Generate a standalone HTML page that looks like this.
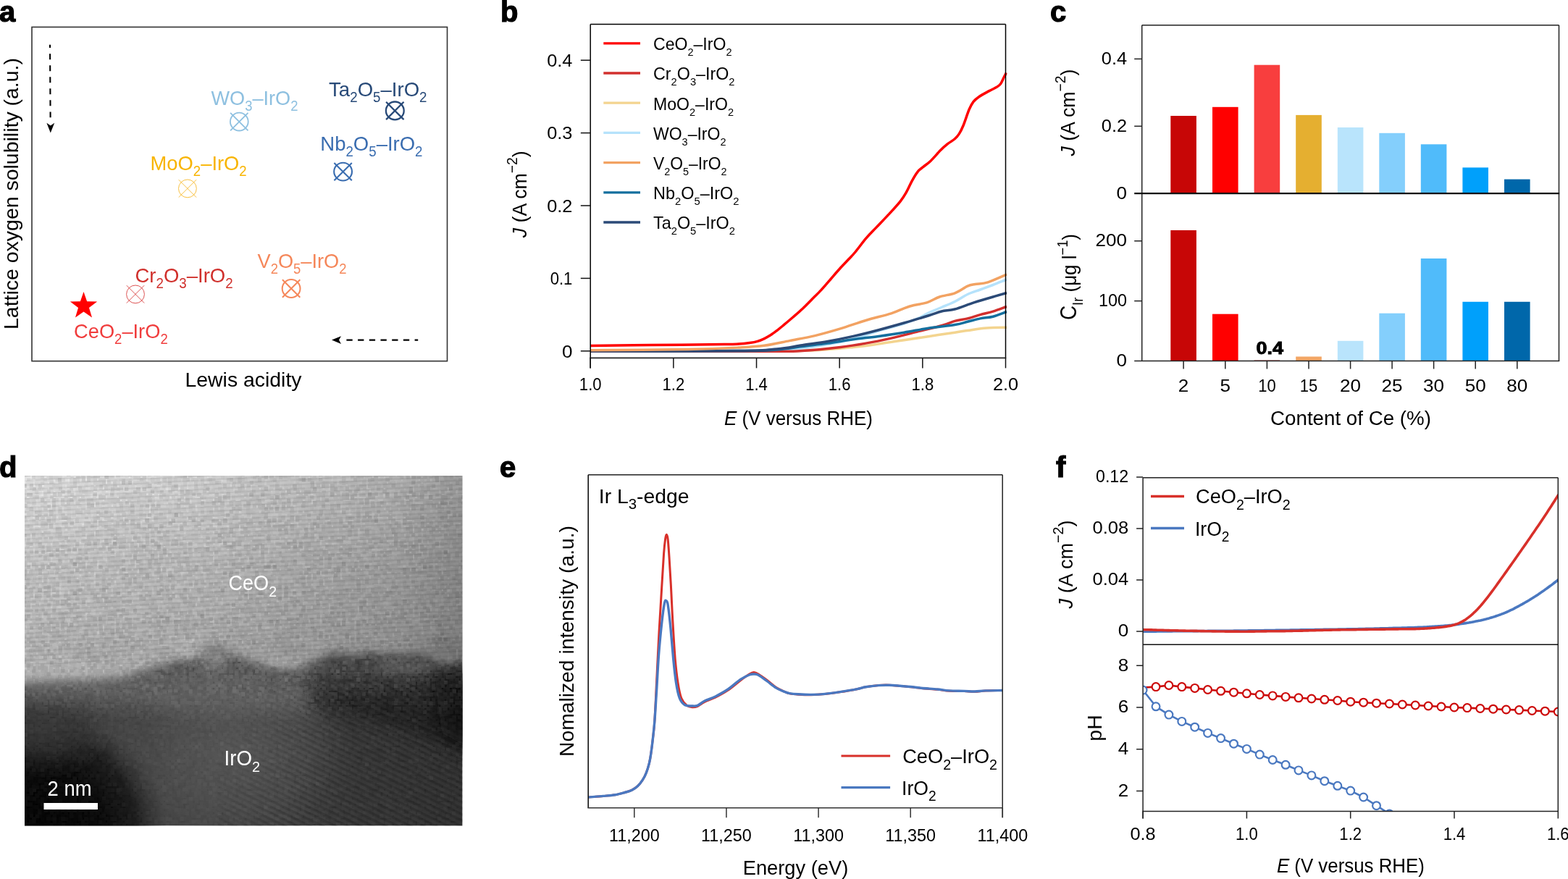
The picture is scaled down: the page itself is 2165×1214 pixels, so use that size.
<!DOCTYPE html>
<html><head><meta charset="utf-8"><title>Figure</title>
<style>html,body{margin:0;padding:0;background:#fff;overflow:hidden}svg{display:block}</style>
</head><body>
<svg width="2165" height="1214" viewBox="0 0 2165 1214" font-family='&quot;Liberation Sans&quot;, sans-serif'>
<rect width="2165" height="1214" fill="#fff"/>
<text x="-1.00" y="29.50" font-size="40.00" font-weight="bold" stroke="#000" stroke-width="1.2">a</text>
<rect x="44.00" y="37.40" width="573.50" height="461.30" fill="none" stroke="#333" stroke-width="1.6"/>
<text x="24.50" y="267.50" font-size="28.50" text-anchor="middle" textLength="375.00" lengthAdjust="spacingAndGlyphs" transform="rotate(-90 24.50 267.50)">Lattice oxygen solubility (a.u.)</text>
<text x="336.00" y="533.80" font-size="28.50" text-anchor="middle" textLength="161.00" lengthAdjust="spacingAndGlyphs">Lewis acidity</text>
<text x="291.50" y="144.70" font-size="28.50" fill="#8ec0e0" textLength="120.00" lengthAdjust="spacingAndGlyphs">WO<tspan font-size="19.38" dy="8.26">3</tspan><tspan dy="-8.26">–IrO</tspan><tspan font-size="19.38" dy="8.26">2</tspan></text>
<text x="454.10" y="132.90" font-size="28.50" fill="#284a78" textLength="135.40" lengthAdjust="spacingAndGlyphs">Ta<tspan font-size="19.38" dy="8.26">2</tspan><tspan dy="-8.26">O</tspan><tspan font-size="19.38" dy="8.26">5</tspan><tspan dy="-8.26">–IrO</tspan><tspan font-size="19.38" dy="8.26">2</tspan></text>
<text x="442.30" y="207.50" font-size="28.50" fill="#3a6db0" textLength="141.20" lengthAdjust="spacingAndGlyphs">Nb<tspan font-size="19.38" dy="8.26">2</tspan><tspan dy="-8.26">O</tspan><tspan font-size="19.38" dy="8.26">5</tspan><tspan dy="-8.26">–IrO</tspan><tspan font-size="19.38" dy="8.26">2</tspan></text>
<text x="207.60" y="234.80" font-size="28.50" fill="#f8b400" textLength="133.10" lengthAdjust="spacingAndGlyphs">MoO<tspan font-size="19.38" dy="8.26">2</tspan><tspan dy="-8.26">–IrO</tspan><tspan font-size="19.38" dy="8.26">2</tspan></text>
<text x="355.50" y="369.50" font-size="28.50" fill="#f5875a" textLength="123.00" lengthAdjust="spacingAndGlyphs">V<tspan font-size="19.38" dy="8.26">2</tspan><tspan dy="-8.26">O</tspan><tspan font-size="19.38" dy="8.26">5</tspan><tspan dy="-8.26">–IrO</tspan><tspan font-size="19.38" dy="8.26">2</tspan></text>
<text x="186.40" y="389.60" font-size="28.50" fill="#d0302c" textLength="135.30" lengthAdjust="spacingAndGlyphs">Cr<tspan font-size="19.38" dy="8.26">2</tspan><tspan dy="-8.26">O</tspan><tspan font-size="19.38" dy="8.26">3</tspan><tspan dy="-8.26">–IrO</tspan><tspan font-size="19.38" dy="8.26">2</tspan></text>
<text x="102.10" y="466.80" font-size="28.50" fill="#f03c3c" textLength="129.60" lengthAdjust="spacingAndGlyphs">CeO<tspan font-size="19.38" dy="8.26">2</tspan><tspan dy="-8.26">–IrO</tspan><tspan font-size="19.38" dy="8.26">2</tspan></text>
<g stroke="#8ec0e0" stroke-width="1.8" fill="none"><circle cx="330.3" cy="168.1" r="12.4"/><path d="M318.1 155.9L342.5 180.3M318.1 180.3L342.5 155.9"/></g>
<g stroke="#284a78" stroke-width="2.3" fill="none"><circle cx="545.3" cy="152.9" r="12.4"/><path d="M533.1 140.7L557.5 165.1M533.1 165.1L557.5 140.7"/></g>
<g stroke="#3a6db0" stroke-width="2.1" fill="none"><circle cx="473.6" cy="237.1" r="12.4"/><path d="M461.4 224.9L485.8 249.3M461.4 249.3L485.8 224.9"/></g>
<g stroke="#f8c040" stroke-width="1" fill="none"><circle cx="258.9" cy="260.4" r="12.4"/><path d="M246.7 248.2L271.1 272.6M246.7 272.6L271.1 248.2"/></g>
<g stroke="#f5875a" stroke-width="2" fill="none"><circle cx="402.1" cy="398.5" r="12.4"/><path d="M389.9 386.3L414.3 410.7M389.9 410.7L414.3 386.3"/></g>
<g stroke="#d84040" stroke-width="0.9" fill="none"><circle cx="187.0" cy="406.4" r="12.4"/><path d="M174.8 394.2L199.2 418.6M174.8 418.6L199.2 394.2"/></g>
<polygon points="115.50,403.00 120.11,416.26 134.14,416.54 122.96,425.02 127.02,438.46 115.50,430.44 103.98,438.46 108.04,425.02 96.86,416.54 110.89,416.26" fill="#ff0000"/>
<line x1="69.0" y1="61.7" x2="69.6" y2="162.3" stroke="#000" stroke-width="2.1" stroke-dasharray="8 8.05" stroke-dashoffset="3.6"/>
<path d="M69.8 183.6 L64.4 169.8 L69.8 173.6 L75.2 169.8 Z" fill="#000"/>
<line x1="577.2" y1="469.6" x2="471" y2="469.6" stroke="#000" stroke-width="2.1" stroke-dasharray="8.3 7.4" stroke-dashoffset="3.7"/>
<path d="M458 469.6 L471 464.2 L468 469.6 L471 475 Z" fill="#000"/>
<text x="691.00" y="29.50" font-size="40.00" font-weight="bold" stroke="#000" stroke-width="1.2">b</text>
<clipPath id="cb"><rect x="815.2" y="33.5" width="575.3" height="460.9"/></clipPath>
<g clip-path="url(#cb)">
<path d="M815.0 485.0 C845.8 485.0 959.2 485.0 1000.0 485.0 C1040.8 485.0 1039.1 485.2 1060.0 485.0 C1080.9 484.8 1105.6 484.7 1125.3 483.8 C1145.0 482.9 1163.4 480.9 1178.0 479.4 C1192.6 477.9 1201.4 476.6 1213.1 475.0 C1224.8 473.4 1236.5 471.5 1248.2 469.7 C1259.9 467.9 1271.6 466.1 1283.3 464.4 C1295.0 462.6 1309.6 460.5 1318.4 459.2 C1327.2 457.9 1328.7 457.5 1336.0 456.5 C1343.3 455.5 1353.3 453.7 1362.3 453.0 C1371.3 452.3 1385.4 452.3 1390.0 452.2" fill="none" stroke="#f3d48f" stroke-width="3.5" stroke-linejoin="round" stroke-linecap="butt"/>
<path d="M815.0 485.0 C854.2 485.0 1005.8 485.2 1050.0 485.0 C1094.2 484.8 1070.4 484.7 1080.0 484.0 C1089.6 483.3 1097.3 482.4 1107.8 481.0 C1118.3 479.6 1131.2 477.7 1142.9 475.5 C1154.6 473.3 1166.3 471.1 1178.0 468.0 C1189.7 464.9 1201.4 460.5 1213.1 457.0 C1224.8 453.5 1238.5 450.1 1248.0 447.0 C1257.5 443.9 1264.1 441.1 1270.0 438.5 C1275.9 435.9 1278.3 433.8 1283.3 431.5 C1288.3 429.2 1294.2 427.0 1300.0 424.5 C1305.8 422.0 1312.4 419.5 1318.4 416.5 C1324.4 413.5 1330.2 409.2 1336.0 406.5 C1341.8 403.8 1347.7 402.2 1353.5 400.0 C1359.3 397.8 1365.0 395.8 1371.1 393.5 C1377.2 391.2 1386.8 387.2 1390.0 386.0" fill="none" stroke="#b5e2fb" stroke-width="3.5" stroke-linejoin="round" stroke-linecap="butt"/>
<path d="M815.0 485.2 C855.8 485.2 1011.2 485.3 1060.0 485.2 C1108.8 485.1 1091.1 485.4 1107.8 484.4 C1124.5 483.4 1145.8 481.1 1160.4 479.4 C1175.0 477.7 1183.8 476.2 1195.5 474.1 C1207.2 472.1 1218.9 469.7 1230.6 467.1 C1242.3 464.5 1254.0 461.2 1265.7 458.3 C1277.4 455.4 1292.1 452.0 1300.9 449.5 C1309.7 447.0 1312.6 445.0 1318.4 443.4 C1324.2 441.8 1330.2 441.4 1336.0 439.9 C1341.8 438.4 1347.7 436.2 1353.5 434.6 C1359.3 433.0 1365.0 432.1 1371.1 430.2 C1377.2 428.3 1386.8 424.6 1390.0 423.5" fill="none" stroke="#d2302e" stroke-width="3.5" stroke-linejoin="round" stroke-linecap="butt"/>
<path d="M815.0 484.8 C849.2 484.8 977.0 484.9 1020.0 484.6 C1063.0 484.3 1058.1 483.9 1072.7 482.9 C1087.3 481.9 1096.1 480.0 1107.8 478.5 C1119.5 477.0 1131.2 475.7 1142.9 474.1 C1154.6 472.5 1166.3 470.4 1178.0 468.8 C1189.7 467.2 1201.4 466.0 1213.1 464.4 C1224.8 462.8 1236.5 461.1 1248.2 459.2 C1259.9 457.3 1271.6 454.8 1283.3 453.0 C1295.0 451.2 1309.6 450.1 1318.4 448.6 C1327.2 447.2 1330.2 445.8 1336.0 444.3 C1341.8 442.9 1347.7 441.1 1353.5 439.9 C1359.3 438.7 1365.0 438.8 1371.1 437.2 C1377.2 435.6 1386.8 431.6 1390.0 430.5" fill="none" stroke="#146f9e" stroke-width="3.5" stroke-linejoin="round" stroke-linecap="butt"/>
<path d="M815.0 484.8 C849.2 484.8 977.0 485.1 1020.0 484.6 C1063.0 484.1 1058.1 483.3 1072.7 482.0 C1087.3 480.7 1096.1 478.4 1107.8 476.7 C1119.5 474.9 1131.2 473.6 1142.9 471.5 C1154.6 469.4 1166.3 467.0 1178.0 464.4 C1189.7 461.8 1201.4 458.8 1213.1 455.7 C1224.8 452.6 1236.5 449.4 1248.2 446.0 C1259.9 442.6 1274.7 438.2 1283.3 435.5 C1291.9 432.8 1294.2 431.4 1300.0 430.0 C1305.8 428.6 1311.0 429.0 1318.4 427.0 C1325.9 425.0 1335.9 420.7 1344.7 417.9 C1353.5 415.1 1363.5 412.2 1371.1 410.0 C1378.6 407.8 1386.8 405.4 1390.0 404.5" fill="none" stroke="#2b4a77" stroke-width="3.5" stroke-linejoin="round" stroke-linecap="butt"/>
<path d="M815.0 483.8 C837.5 483.6 915.8 483.1 950.0 482.5 C984.2 481.9 1002.5 480.9 1020.0 480.0 C1037.5 479.1 1043.4 478.9 1055.1 477.3 C1066.8 475.7 1078.5 472.9 1090.2 470.6 C1101.9 468.3 1113.6 466.4 1125.3 463.6 C1137.0 460.8 1148.7 457.4 1160.4 453.9 C1172.1 450.4 1183.8 446.0 1195.5 442.5 C1207.2 439.0 1221.8 435.6 1230.6 432.8 C1239.4 430.0 1243.0 427.7 1248.2 425.8 C1253.4 423.9 1256.7 422.8 1262.0 421.5 C1267.3 420.2 1273.9 419.8 1279.8 417.9 C1285.7 416.0 1290.9 412.2 1297.3 410.0 C1303.7 407.8 1312.0 407.3 1318.4 404.8 C1324.9 402.3 1331.3 397.2 1336.0 395.1 C1340.7 393.1 1341.8 393.4 1346.5 392.5 C1351.2 391.6 1356.8 392.1 1364.0 389.8 C1371.2 387.6 1385.7 380.8 1390.0 379.0" fill="none" stroke="#f2a262" stroke-width="3.5" stroke-linejoin="round" stroke-linecap="butt"/>
<path d="M815.0 477.6 C829.2 477.4 869.2 476.9 900.0 476.6 C930.8 476.3 980.0 475.9 1000.0 475.6 C1020.0 475.4 1014.2 475.4 1020.0 475.1 C1025.8 474.8 1030.7 474.2 1035.0 473.6 C1039.3 473.0 1042.7 472.4 1046.0 471.4 C1049.3 470.4 1052.0 469.2 1055.0 467.8 C1058.0 466.4 1061.0 464.7 1064.0 462.8 C1067.0 460.9 1070.1 458.5 1073.0 456.3 C1075.9 454.1 1077.7 452.6 1081.4 449.5 C1085.1 446.4 1090.6 441.8 1095.0 438.0 C1099.4 434.2 1103.7 430.6 1108.0 426.5 C1112.3 422.4 1116.7 417.9 1121.0 413.5 C1125.3 409.1 1129.7 405.1 1134.0 400.4 C1138.3 395.7 1142.7 390.5 1147.0 385.5 C1151.3 380.5 1155.8 375.1 1160.0 370.5 C1164.2 365.9 1168.5 361.6 1172.0 357.8 C1175.5 354.1 1177.0 352.8 1181.0 348.0 C1185.0 343.2 1191.0 334.8 1195.8 329.2 C1200.6 323.6 1204.1 320.3 1209.7 314.4 C1215.3 308.5 1223.8 299.7 1229.4 293.6 C1235.0 287.5 1239.7 282.4 1243.3 277.8 C1246.9 273.2 1248.6 270.5 1251.2 265.9 C1253.8 261.3 1256.5 254.9 1259.1 250.1 C1261.7 245.3 1264.4 240.6 1267.0 237.3 C1269.6 234.0 1271.9 232.8 1274.9 230.3 C1277.9 227.8 1280.8 226.2 1284.8 222.4 C1288.8 218.6 1294.6 211.6 1298.6 207.6 C1302.5 203.6 1305.2 201.3 1308.5 198.7 C1311.8 196.1 1315.8 194.1 1318.4 191.8 C1321.0 189.5 1322.3 188.0 1324.3 184.9 C1326.3 181.8 1327.9 178.6 1330.2 173.0 C1332.5 167.4 1335.8 156.7 1338.1 151.3 C1340.4 145.9 1341.8 143.4 1344.1 140.4 C1346.4 137.4 1348.4 136.0 1352.0 133.5 C1355.6 131.0 1361.8 127.8 1365.8 125.6 C1369.8 123.4 1373.1 122.2 1375.7 120.6 C1378.3 118.9 1379.9 118.0 1381.6 115.7 C1383.3 113.4 1384.7 109.5 1386.0 107.0 C1387.3 104.5 1388.9 101.6 1389.5 100.5" fill="none" stroke="#ff0000" stroke-width="3.5" stroke-linejoin="round" stroke-linecap="butt"/>
</g>
<line x1="815.20" y1="33.50" x2="1388.50" y2="33.50" stroke="#000" stroke-width="1.5"/>
<line x1="1388.50" y1="33.50" x2="1388.50" y2="494.40" stroke="#000" stroke-width="1.5"/>
<line x1="815.20" y1="33.50" x2="815.20" y2="508.40" stroke="#000" stroke-width="1.5"/>
<line x1="814.20" y1="494.40" x2="1389.25" y2="494.40" stroke="#222" stroke-width="1.8"/>
<line x1="801.80" y1="484.80" x2="815.20" y2="484.80" stroke="#111" stroke-width="1.5"/>
<text x="790.40" y="493.60" font-size="24.20" text-anchor="end" textLength="14.50" lengthAdjust="spacingAndGlyphs">0</text>
<line x1="801.80" y1="384.40" x2="815.20" y2="384.40" stroke="#111" stroke-width="1.5"/>
<text x="790.40" y="393.20" font-size="24.20" text-anchor="end" textLength="30.70" lengthAdjust="spacingAndGlyphs">0.1</text>
<line x1="801.80" y1="284.00" x2="815.20" y2="284.00" stroke="#111" stroke-width="1.5"/>
<text x="790.40" y="292.80" font-size="24.20" text-anchor="end" textLength="35.20" lengthAdjust="spacingAndGlyphs">0.2</text>
<line x1="801.80" y1="183.60" x2="815.20" y2="183.60" stroke="#111" stroke-width="1.5"/>
<text x="790.40" y="192.40" font-size="24.20" text-anchor="end" textLength="35.20" lengthAdjust="spacingAndGlyphs">0.3</text>
<line x1="801.80" y1="83.20" x2="815.20" y2="83.20" stroke="#111" stroke-width="1.5"/>
<text x="790.40" y="92.00" font-size="24.20" text-anchor="end" textLength="35.20" lengthAdjust="spacingAndGlyphs">0.4</text>
<line x1="815.20" y1="494.40" x2="815.20" y2="508.40" stroke="#111" stroke-width="1.5"/>
<text x="815.20" y="538.80" font-size="24.20" text-anchor="middle" textLength="30.70" lengthAdjust="spacingAndGlyphs">1.0</text>
<line x1="929.86" y1="494.40" x2="929.86" y2="508.40" stroke="#111" stroke-width="1.5"/>
<text x="929.86" y="538.80" font-size="24.20" text-anchor="middle" textLength="30.70" lengthAdjust="spacingAndGlyphs">1.2</text>
<line x1="1044.52" y1="494.40" x2="1044.52" y2="508.40" stroke="#111" stroke-width="1.5"/>
<text x="1044.52" y="538.80" font-size="24.20" text-anchor="middle" textLength="30.70" lengthAdjust="spacingAndGlyphs">1.4</text>
<line x1="1159.18" y1="494.40" x2="1159.18" y2="508.40" stroke="#111" stroke-width="1.5"/>
<text x="1159.18" y="538.80" font-size="24.20" text-anchor="middle" textLength="30.70" lengthAdjust="spacingAndGlyphs">1.6</text>
<line x1="1273.84" y1="494.40" x2="1273.84" y2="508.40" stroke="#111" stroke-width="1.5"/>
<text x="1273.84" y="538.80" font-size="24.20" text-anchor="middle" textLength="30.70" lengthAdjust="spacingAndGlyphs">1.8</text>
<line x1="1388.50" y1="494.40" x2="1388.50" y2="508.40" stroke="#111" stroke-width="1.5"/>
<text x="1388.50" y="538.80" font-size="24.20" text-anchor="middle" textLength="35.20" lengthAdjust="spacingAndGlyphs">2.0</text>
<text x="1102.40" y="586.80" font-size="28.40" text-anchor="middle" textLength="205.00" lengthAdjust="spacingAndGlyphs"><tspan font-style="italic">E</tspan> (V versus RHE)</text>
<text x="726.80" y="268.30" font-size="28.40" text-anchor="middle" textLength="120.00" lengthAdjust="spacingAndGlyphs" transform="rotate(-90 726.80 268.30)"><tspan font-style="italic">J</tspan> (A cm<tspan font-size="20.45" dy="-13.06">−2</tspan><tspan dy="13.06">)</tspan></text>
<line x1="833.30" y1="59.80" x2="884.00" y2="59.80" stroke="#ff0000" stroke-width="3.3"/>
<text x="902.00" y="69.20" font-size="23.80" textLength="108.50" lengthAdjust="spacingAndGlyphs">CeO<tspan font-size="14.99" dy="8.09">2</tspan><tspan dy="-8.09">–IrO</tspan><tspan font-size="14.99" dy="8.09">2</tspan></text>
<line x1="833.30" y1="101.00" x2="884.00" y2="101.00" stroke="#d2302e" stroke-width="3.3"/>
<text x="902.00" y="110.40" font-size="23.80" textLength="112.50" lengthAdjust="spacingAndGlyphs">Cr<tspan font-size="14.99" dy="8.09">2</tspan><tspan dy="-8.09">O</tspan><tspan font-size="14.99" dy="8.09">3</tspan><tspan dy="-8.09">–IrO</tspan><tspan font-size="14.99" dy="8.09">2</tspan></text>
<line x1="833.30" y1="142.20" x2="884.00" y2="142.20" stroke="#f3d48f" stroke-width="3.3"/>
<text x="902.00" y="151.60" font-size="23.80" textLength="111.00" lengthAdjust="spacingAndGlyphs">MoO<tspan font-size="14.99" dy="8.09">2</tspan><tspan dy="-8.09">–IrO</tspan><tspan font-size="14.99" dy="8.09">2</tspan></text>
<line x1="833.30" y1="183.40" x2="884.00" y2="183.40" stroke="#b5e2fb" stroke-width="3.3"/>
<text x="902.00" y="192.80" font-size="23.80" textLength="100.50" lengthAdjust="spacingAndGlyphs">WO<tspan font-size="14.99" dy="8.09">3</tspan><tspan dy="-8.09">–IrO</tspan><tspan font-size="14.99" dy="8.09">2</tspan></text>
<line x1="833.30" y1="224.60" x2="884.00" y2="224.60" stroke="#f2a262" stroke-width="3.3"/>
<text x="902.00" y="234.00" font-size="23.80" textLength="101.50" lengthAdjust="spacingAndGlyphs">V<tspan font-size="14.99" dy="8.09">2</tspan><tspan dy="-8.09">O</tspan><tspan font-size="14.99" dy="8.09">5</tspan><tspan dy="-8.09">–IrO</tspan><tspan font-size="14.99" dy="8.09">2</tspan></text>
<line x1="833.30" y1="265.80" x2="884.00" y2="265.80" stroke="#146f9e" stroke-width="3.3"/>
<text x="902.00" y="275.20" font-size="23.80" textLength="118.50" lengthAdjust="spacingAndGlyphs">Nb<tspan font-size="14.99" dy="8.09">2</tspan><tspan dy="-8.09">O</tspan><tspan font-size="14.99" dy="8.09">5</tspan><tspan dy="-8.09">–IrO</tspan><tspan font-size="14.99" dy="8.09">2</tspan></text>
<line x1="833.30" y1="307.00" x2="884.00" y2="307.00" stroke="#2b4a77" stroke-width="3.3"/>
<text x="902.00" y="316.40" font-size="23.80" textLength="113.00" lengthAdjust="spacingAndGlyphs">Ta<tspan font-size="14.99" dy="8.09">2</tspan><tspan dy="-8.09">O</tspan><tspan font-size="14.99" dy="8.09">5</tspan><tspan dy="-8.09">–IrO</tspan><tspan font-size="14.99" dy="8.09">2</tspan></text>
<text x="1450.00" y="29.50" font-size="40.00" font-weight="bold" stroke="#000" stroke-width="1.2">c</text>
<rect x="1616.30" y="160.00" width="35.60" height="107.20" fill="#c70606"/>
<rect x="1674.00" y="147.80" width="35.60" height="119.40" fill="#ff0000"/>
<rect x="1731.60" y="89.70" width="35.60" height="177.50" fill="#f83e3e"/>
<rect x="1789.20" y="158.90" width="35.60" height="108.30" fill="#e5af30"/>
<rect x="1846.80" y="176.00" width="35.60" height="91.20" fill="#b9e4fc"/>
<rect x="1904.30" y="183.80" width="35.60" height="83.40" fill="#84cffc"/>
<rect x="1961.80" y="199.30" width="35.60" height="67.90" fill="#50bbfa"/>
<rect x="2019.40" y="231.40" width="35.60" height="35.80" fill="#00a0fb"/>
<rect x="2077.00" y="247.60" width="35.60" height="19.60" fill="#0067aa"/>
<rect x="1616.30" y="318.00" width="35.60" height="180.50" fill="#c70606"/>
<rect x="1674.00" y="433.70" width="35.60" height="64.80" fill="#ff0000"/>
<rect x="1731.60" y="497.60" width="35.60" height="0.90" fill="#a01010"/>
<rect x="1789.20" y="492.50" width="35.60" height="6.00" fill="#f3a665"/>
<rect x="1846.80" y="470.80" width="35.60" height="27.70" fill="#b9e4fc"/>
<rect x="1904.30" y="432.70" width="35.60" height="65.80" fill="#84cffc"/>
<rect x="1961.80" y="357.00" width="35.60" height="141.50" fill="#50bbfa"/>
<rect x="2019.40" y="416.80" width="35.60" height="81.70" fill="#00a0fb"/>
<rect x="2077.00" y="416.80" width="35.60" height="81.70" fill="#0067aa"/>
<line x1="1576.70" y1="34.80" x2="2152.50" y2="34.80" stroke="#222" stroke-width="1.5"/>
<line x1="2152.50" y1="34.80" x2="2152.50" y2="498.50" stroke="#222" stroke-width="1.5"/>
<line x1="1576.70" y1="34.80" x2="1576.70" y2="498.50" stroke="#222" stroke-width="1.5"/>
<line x1="1566.20" y1="267.20" x2="2153.25" y2="267.20" stroke="#111" stroke-width="2.2"/>
<line x1="1566.20" y1="498.50" x2="2153.25" y2="498.50" stroke="#222" stroke-width="1.6"/>
<line x1="1566.20" y1="174.30" x2="1576.70" y2="174.30" stroke="#222" stroke-width="1.5"/>
<text x="1556.00" y="181.60" font-size="24.20" text-anchor="end" textLength="35.20" lengthAdjust="spacingAndGlyphs">0.2</text>
<line x1="1566.20" y1="81.40" x2="1576.70" y2="81.40" stroke="#222" stroke-width="1.5"/>
<text x="1556.00" y="88.70" font-size="24.20" text-anchor="end" textLength="35.20" lengthAdjust="spacingAndGlyphs">0.4</text>
<text x="1556.00" y="274.50" font-size="24.20" text-anchor="end" textLength="14.50" lengthAdjust="spacingAndGlyphs">0</text>
<line x1="1566.20" y1="415.65" x2="1576.70" y2="415.65" stroke="#222" stroke-width="1.5"/>
<text x="1556.00" y="422.95" font-size="24.20" text-anchor="end" textLength="39.00" lengthAdjust="spacingAndGlyphs">100</text>
<line x1="1566.20" y1="332.80" x2="1576.70" y2="332.80" stroke="#222" stroke-width="1.5"/>
<text x="1556.00" y="340.10" font-size="24.20" text-anchor="end" textLength="43.50" lengthAdjust="spacingAndGlyphs">200</text>
<text x="1556.00" y="505.80" font-size="24.20" text-anchor="end" textLength="14.50" lengthAdjust="spacingAndGlyphs">0</text>
<line x1="1634.10" y1="498.50" x2="1634.10" y2="509.50" stroke="#222" stroke-width="1.5"/>
<text x="1634.10" y="541.00" font-size="24.20" text-anchor="middle" textLength="14.50" lengthAdjust="spacingAndGlyphs">2</text>
<line x1="1691.80" y1="498.50" x2="1691.80" y2="509.50" stroke="#222" stroke-width="1.5"/>
<text x="1691.80" y="541.00" font-size="24.20" text-anchor="middle" textLength="14.50" lengthAdjust="spacingAndGlyphs">5</text>
<line x1="1749.40" y1="498.50" x2="1749.40" y2="509.50" stroke="#222" stroke-width="1.5"/>
<text x="1749.40" y="541.00" font-size="24.20" text-anchor="middle" textLength="24.50" lengthAdjust="spacingAndGlyphs">10</text>
<line x1="1807.00" y1="498.50" x2="1807.00" y2="509.50" stroke="#222" stroke-width="1.5"/>
<text x="1807.00" y="541.00" font-size="24.20" text-anchor="middle" textLength="24.50" lengthAdjust="spacingAndGlyphs">15</text>
<line x1="1864.60" y1="498.50" x2="1864.60" y2="509.50" stroke="#222" stroke-width="1.5"/>
<text x="1864.60" y="541.00" font-size="24.20" text-anchor="middle" textLength="29.00" lengthAdjust="spacingAndGlyphs">20</text>
<line x1="1922.10" y1="498.50" x2="1922.10" y2="509.50" stroke="#222" stroke-width="1.5"/>
<text x="1922.10" y="541.00" font-size="24.20" text-anchor="middle" textLength="29.00" lengthAdjust="spacingAndGlyphs">25</text>
<line x1="1979.60" y1="498.50" x2="1979.60" y2="509.50" stroke="#222" stroke-width="1.5"/>
<text x="1979.60" y="541.00" font-size="24.20" text-anchor="middle" textLength="29.00" lengthAdjust="spacingAndGlyphs">30</text>
<line x1="2037.20" y1="498.50" x2="2037.20" y2="509.50" stroke="#222" stroke-width="1.5"/>
<text x="2037.20" y="541.00" font-size="24.20" text-anchor="middle" textLength="29.00" lengthAdjust="spacingAndGlyphs">50</text>
<line x1="2094.80" y1="498.50" x2="2094.80" y2="509.50" stroke="#222" stroke-width="1.5"/>
<text x="2094.80" y="541.00" font-size="24.20" text-anchor="middle" textLength="29.00" lengthAdjust="spacingAndGlyphs">80</text>
<text x="1865.00" y="586.70" font-size="28.40" text-anchor="middle" textLength="222.00" lengthAdjust="spacingAndGlyphs">Content of Ce (%)</text>
<text x="1753.30" y="489.00" font-size="23.50" text-anchor="middle" font-weight="bold" textLength="37.50" lengthAdjust="spacingAndGlyphs" stroke="#000" stroke-width="0.9">0.4</text>
<text x="1484.30" y="155.60" font-size="28.40" text-anchor="middle" textLength="120.00" lengthAdjust="spacingAndGlyphs" transform="rotate(-90 1484.30 155.60)"><tspan font-style="italic">J</tspan> (A cm<tspan font-size="20.45" dy="-13.06">−2</tspan><tspan dy="13.06">)</tspan></text>
<text x="1486.3" y="382.5" font-size="28.4" text-anchor="middle" textLength="119" lengthAdjust="spacingAndGlyphs" transform="rotate(-90 1486.3 382.5)"><tspan font-size="30.5">C</tspan><tspan font-size="20" dy="8.4">Ir</tspan><tspan dy="-8.4"> (μg l</tspan><tspan font-size="20" dy="-12.5">−1</tspan><tspan dy="12.5">)</tspan></text>
<text x="-1.00" y="658.50" font-size="40.00" font-weight="bold" stroke="#000" stroke-width="1.2">d</text>
<defs><clipPath id="cd"><rect x="34" y="657" width="604.5" height="483.5"/></clipPath><filter id="b4" filterUnits="userSpaceOnUse" x="0" y="600" width="700" height="600"><feGaussianBlur stdDeviation="4"/></filter><filter id="b7" filterUnits="userSpaceOnUse" x="0" y="600" width="700" height="600"><feGaussianBlur stdDeviation="7"/></filter><filter id="b12" filterUnits="userSpaceOnUse" x="0" y="600" width="700" height="600"><feGaussianBlur stdDeviation="12"/></filter><filter id="b20" filterUnits="userSpaceOnUse" x="0" y="600" width="700" height="600"><feGaussianBlur stdDeviation="20"/></filter><filter id="nz" filterUnits="userSpaceOnUse" x="0" y="600" width="700" height="600"><feTurbulence type="fractalNoise" baseFrequency="0.35 0.3" numOctaves="2" seed="7" result="t"/><feColorMatrix in="t" type="matrix" values="0 0 0 0 1  0 0 0 0 1  0 0 0 0 1  1.8 0 0 0 -0.75" result="c"/><feFlood x="2" y="602" width="1.5" height="1.5" flood-color="#fff"/><feComposite x="0" y="600" width="4.6" height="4.6"/><feTile result="g"/><feComposite in="c" in2="g" operator="in"/><feMorphology operator="dilate" radius="2.3"/></filter><filter id="nz2" filterUnits="userSpaceOnUse" x="0" y="600" width="700" height="600"><feTurbulence type="fractalNoise" baseFrequency="0.33 0.28" numOctaves="2" seed="3" result="t"/><feColorMatrix in="t" type="matrix" values="0 0 0 0 0  0 0 0 0 0  0 0 0 0 0  1.8 0 0 0 -0.75" result="c"/><feFlood x="2" y="602" width="1.5" height="1.5" flood-color="#fff"/><feComposite x="0" y="600" width="4.6" height="4.6"/><feTile result="g"/><feComposite in="c" in2="g" operator="in"/><feMorphology operator="dilate" radius="2.3"/></filter><linearGradient id="gtop" gradientUnits="userSpaceOnUse" x1="0" y1="657" x2="0" y2="940"><stop offset="0" stop-color="#ececec"/><stop offset="0.45" stop-color="#cecece"/><stop offset="1" stop-color="#b4b4b4"/></linearGradient><linearGradient id="gtr" gradientUnits="userSpaceOnUse" x1="34" y1="0" x2="640" y2="0"><stop offset="0" stop-color="#000" stop-opacity="0"/><stop offset="0.4" stop-color="#000" stop-opacity="0.06"/><stop offset="0.85" stop-color="#000" stop-opacity="0.2"/><stop offset="1" stop-color="#000" stop-opacity="0.3"/></linearGradient><radialGradient id="gbl" gradientUnits="userSpaceOnUse" cx="45" cy="1150" r="185" gradientTransform="translate(45 1150) scale(1 0.95) translate(-45 -1150)"><stop offset="0" stop-color="#000"/><stop offset="0.55" stop-color="#060606"/><stop offset="0.78" stop-color="#141414" stop-opacity="0.9"/><stop offset="1" stop-color="#262626" stop-opacity="0"/></radialGradient><radialGradient id="gmid" gradientUnits="userSpaceOnUse" cx="330" cy="1040" r="160" gradientTransform="translate(330 1040) scale(1 0.8) translate(-330 -1040)"><stop offset="0" stop-color="#555"/><stop offset="0.6" stop-color="#4e4e4e" stop-opacity="0.7"/><stop offset="1" stop-color="#484848" stop-opacity="0"/></radialGradient><linearGradient id="gbr" gradientUnits="userSpaceOnUse" x1="330" y1="0" x2="640" y2="0"><stop offset="0" stop-color="#000" stop-opacity="0"/><stop offset="0.5" stop-color="#000" stop-opacity="0.18"/><stop offset="1" stop-color="#000" stop-opacity="0.3"/></linearGradient><linearGradient id="nmask" gradientUnits="userSpaceOnUse" x1="0" y1="657" x2="0" y2="1141"><stop offset="0" stop-color="#fff"/><stop offset="0.55" stop-color="#fff"/><stop offset="0.7" stop-color="#555"/><stop offset="1" stop-color="#444"/></linearGradient><linearGradient id="trmg" gradientUnits="userSpaceOnUse" x1="0" y1="657" x2="0" y2="960"><stop offset="0" stop-color="#fff"/><stop offset="0.8" stop-color="#fff"/><stop offset="1" stop-color="#000"/></linearGradient><mask id="trm" maskUnits="userSpaceOnUse" x="0" y="600" width="700" height="600"><rect x="0" y="600" width="700" height="600" fill="url(#trmg)"/></mask><mask id="nm" maskUnits="userSpaceOnUse" x="0" y="600" width="700" height="600"><rect x="0" y="600" width="700" height="600" fill="url(#nmask)"/></mask><pattern id="fr" width="700" height="6.2" patternUnits="userSpaceOnUse" patternTransform="rotate(-3)"><rect width="700" height="2.6" fill="#000" fill-opacity="0.07"/></pattern><pattern id="dg" width="600" height="7.6" patternUnits="userSpaceOnUse" patternTransform="rotate(26)"><rect width="600" height="3.4" fill="#000" fill-opacity="0.17"/></pattern><linearGradient id="dgm" gradientUnits="userSpaceOnUse" x1="330" y1="960" x2="520" y2="1060"><stop offset="0" stop-color="#000"/><stop offset="0.7" stop-color="#fff"/></linearGradient><mask id="dm" maskUnits="userSpaceOnUse" x="0" y="600" width="700" height="600"><rect x="300" y="940" width="400" height="260" fill="url(#dgm)"/></mask></defs>
<g clip-path="url(#cd)">
<rect x="34.00" y="657.00" width="604.50" height="483.50" fill="#424242"/>
<rect x="330.00" y="930.00" width="320.00" height="220.00" fill="url(#gbr)"/>
<rect x="34.00" y="860.00" width="610.00" height="290.00" fill="url(#gmid)"/>
<rect x="34.00" y="900.00" width="260.00" height="250.00" fill="url(#gbl)"/>
<ellipse cx="60" cy="1000" rx="70" ry="45" fill="#303030" filter="url(#b20)"/>
<polygon points="20,930 180,925 260,915 340,915 430,930 430,985 300,985 150,970 20,965" fill="#5c5c5c" filter="url(#b12)"/>
<polygon points="20,640 660,640 660,912 630,914 605,912 585,905 560,908 535,905 510,902 485,906 460,902 440,912 420,920 400,922 370,918 345,914 322,906 300,900 280,904 262,908 250,910 225,918 200,926 170,934 140,938 100,940 60,941 20,944" fill="url(#gtop)" filter="url(#b7)"/>
<ellipse cx="262" cy="893" rx="26" ry="16" fill="#c4c4c4" filter="url(#b7)"/>
<ellipse cx="385" cy="903" rx="28" ry="14" fill="#bcbcbc" filter="url(#b7)"/>
<ellipse cx="398" cy="905" rx="22" ry="14" fill="#b6b6b6" filter="url(#b7)"/>
<ellipse cx="612" cy="895" rx="24" ry="16" fill="#a8a8a8" filter="url(#b7)"/>
<ellipse cx="130" cy="905" rx="40" ry="16" fill="#b6b6b6" filter="url(#b7)"/>
<ellipse cx="560" cy="918" rx="40" ry="12" fill="#5e5e5e" filter="url(#b7)"/>
<ellipse cx="296" cy="906" rx="22" ry="16" fill="#8e8e8e" filter="url(#b7)"/>
<polygon points="430,952 520,956 600,945 660,930 660,1045 610,1025 540,1000 480,985 430,970" fill="#1c1c1c" filter="url(#b12)"/>
<polygon points="600,935 660,925 660,1040 610,1012" fill="#0c0c0c" filter="url(#b12)"/>
<rect x="34" y="657" width="604.5" height="260" fill="url(#fr)"/>
<rect x="300.00" y="940.00" width="400.00" height="260.00" fill="url(#dg)" mask="url(#dm)"/>
<g mask="url(#nm)"><rect x="34" y="657" width="604.5" height="483.5" filter="url(#nz)" opacity="0.30"/><rect x="34" y="657" width="604.5" height="483.5" filter="url(#nz2)" opacity="0.22"/></g>
<rect x="34.00" y="657.00" width="604.50" height="300.00" fill="url(#gtr)" mask="url(#trm)"/>
</g>
<text x="315.50" y="815.00" font-size="29.00" fill="#fff" textLength="66.50" lengthAdjust="spacingAndGlyphs">CeO<tspan font-size="20.88" dy="8.70">2</tspan></text>
<text x="309.50" y="1057.30" font-size="29.00" fill="#fff" textLength="49.50" lengthAdjust="spacingAndGlyphs">IrO<tspan font-size="20.88" dy="8.70">2</tspan></text>
<text x="65.50" y="1098.70" font-size="29.00" fill="#fff" textLength="61.00" lengthAdjust="spacingAndGlyphs">2 nm</text>
<rect x="60.50" y="1109.00" width="74.50" height="9.00" fill="#fff"/>
<text x="690.00" y="658.50" font-size="40.00" font-weight="bold" stroke="#000" stroke-width="1.2">e</text>
<path d="M812.4 1101.1 C815.8 1100.8 826.8 1100.0 833.0 1099.4 C839.2 1098.9 844.5 1098.6 849.4 1097.8 C854.3 1097.0 858.8 1095.6 862.6 1094.5 C866.5 1093.4 869.5 1092.7 872.5 1091.2 C875.5 1089.7 878.2 1087.7 880.7 1085.4 C883.2 1083.1 885.4 1080.2 887.3 1077.2 C889.2 1074.2 890.8 1071.2 892.3 1067.3 C893.8 1063.4 895.3 1058.5 896.4 1054.1 C897.5 1049.7 898.0 1046.5 898.8 1041.0 C899.6 1035.5 900.5 1028.6 901.3 1021.2 C902.1 1013.8 903.0 1008.9 903.8 996.5 C904.6 984.1 905.3 967.7 906.3 947.1 C907.3 926.5 908.8 895.6 910.0 873.0 C911.2 850.4 912.6 829.3 913.7 811.2 C914.8 793.1 915.8 775.3 916.6 764.2 C917.4 753.1 918.0 748.8 918.6 744.5 C919.2 740.2 919.7 738.3 920.3 738.3 C920.9 738.3 921.5 739.4 922.1 744.5 C922.7 749.6 923.3 758.1 924.0 769.2 C924.7 780.3 925.7 796.0 926.5 811.2 C927.3 826.4 928.0 844.1 929.0 860.6 C930.0 877.1 931.1 896.4 932.2 910.0 C933.4 923.6 934.5 933.1 935.9 942.2 C937.3 951.3 938.7 959.0 940.8 964.4 C942.9 969.8 945.8 972.2 948.3 974.3 C950.8 976.3 953.2 976.5 955.7 976.7 C958.2 976.9 960.2 976.7 963.1 975.5 C966.0 974.3 968.9 971.3 973.0 969.3 C977.1 967.2 982.4 965.9 987.8 963.2 C993.1 960.5 999.3 957.2 1005.1 953.3 C1010.9 949.4 1017.5 943.4 1022.4 939.7 C1027.3 936.0 1031.6 932.9 1034.7 931.0 C1037.8 929.1 1038.8 928.6 1040.9 928.6 C1043.0 928.6 1044.0 929.1 1047.1 931.0 C1050.2 932.9 1055.4 936.6 1059.5 939.7 C1063.6 942.8 1067.7 946.9 1071.8 949.6 C1075.9 952.3 1081.1 954.3 1084.2 955.7 C1087.3 957.1 1087.3 957.3 1090.3 957.9 C1093.3 958.5 1097.3 958.9 1102.2 959.2 C1107.1 959.5 1113.8 959.9 1119.9 959.8 C1126.1 959.7 1132.2 959.3 1139.1 958.6 C1146.0 957.9 1153.9 956.8 1161.3 955.6 C1168.7 954.5 1177.8 952.8 1183.5 951.7 C1189.2 950.6 1190.4 949.7 1195.3 948.8 C1200.2 947.9 1207.6 946.9 1213.0 946.5 C1218.4 946.1 1222.9 946.0 1227.8 946.2 C1232.7 946.4 1237.7 947.1 1242.6 947.5 C1247.5 947.9 1252.5 948.3 1257.4 948.8 C1262.3 949.3 1265.9 950.0 1272.1 950.6 C1278.2 951.2 1287.9 951.7 1294.3 952.3 C1300.7 952.9 1304.4 953.8 1310.6 954.2 C1316.8 954.6 1325.4 954.4 1331.3 954.6 C1337.2 954.8 1341.1 955.3 1346.0 955.2 C1350.9 955.1 1354.5 954.3 1360.8 954.0 C1367.1 953.7 1380.1 953.6 1384.0 953.5" fill="none" stroke="#d8302a" stroke-width="3" stroke-linejoin="round" stroke-linecap="butt"/>
<path d="M812.4 1101.1 C815.8 1100.8 826.8 1100.0 833.0 1099.4 C839.2 1098.9 844.5 1098.6 849.4 1097.8 C854.3 1097.0 858.8 1095.6 862.6 1094.5 C866.5 1093.4 869.5 1092.7 872.5 1091.2 C875.5 1089.7 878.2 1087.7 880.7 1085.4 C883.2 1083.1 885.4 1080.2 887.3 1077.2 C889.2 1074.2 890.8 1071.2 892.3 1067.3 C893.8 1063.4 895.3 1058.5 896.4 1054.1 C897.5 1049.7 898.0 1046.5 898.8 1041.0 C899.6 1035.5 900.5 1028.6 901.3 1021.2 C902.1 1013.8 902.9 1007.5 903.8 996.5 C904.7 985.5 905.5 970.2 906.5 955.0 C907.5 939.8 908.3 920.7 909.5 905.0 C910.7 889.3 912.4 872.5 913.7 860.6 C915.0 848.7 916.4 838.5 917.4 833.4 C918.4 828.2 919.0 829.3 919.8 829.7 C920.6 830.1 921.3 829.5 922.3 835.9 C923.3 842.3 924.8 855.6 926.0 868.0 C927.2 880.4 928.5 897.6 929.7 910.0 C930.9 922.4 932.0 933.1 933.4 942.2 C934.8 951.3 936.3 959.1 938.4 964.4 C940.5 969.7 942.9 972.0 945.8 973.8 C948.7 975.6 952.8 974.9 955.7 975.0 C958.6 975.1 960.2 975.4 963.1 974.3 C966.0 973.1 968.9 970.2 973.0 968.1 C977.1 966.0 982.4 964.6 987.8 961.9 C993.1 959.2 999.3 955.9 1005.1 952.0 C1010.9 948.1 1017.5 941.7 1022.4 938.4 C1027.3 935.1 1031.6 933.2 1034.7 932.0 C1037.8 930.8 1038.8 931.0 1040.9 931.0 C1043.0 931.0 1044.0 930.6 1047.1 932.3 C1050.2 934.0 1055.4 938.0 1059.5 941.0 C1063.6 944.0 1067.7 947.6 1071.8 950.1 C1075.9 952.6 1081.1 954.5 1084.2 955.7 C1087.3 957.0 1087.3 957.1 1090.3 957.6 C1093.3 958.1 1097.3 958.5 1102.2 958.8 C1107.1 959.1 1113.8 959.5 1119.9 959.4 C1126.1 959.3 1132.2 959.1 1139.1 958.4 C1146.0 957.7 1153.9 956.5 1161.3 955.4 C1168.7 954.3 1177.8 952.8 1183.5 951.7 C1189.2 950.6 1190.4 949.6 1195.3 948.8 C1200.2 947.9 1207.6 947.0 1213.0 946.6 C1218.4 946.2 1222.9 946.2 1227.8 946.3 C1232.7 946.4 1237.7 946.9 1242.6 947.3 C1247.5 947.7 1252.5 948.0 1257.4 948.5 C1262.3 949.0 1265.9 949.7 1272.1 950.3 C1278.2 950.9 1287.9 951.4 1294.3 952.0 C1300.7 952.6 1304.4 953.5 1310.6 953.9 C1316.8 954.3 1325.4 954.2 1331.3 954.4 C1337.2 954.6 1341.1 955.1 1346.0 955.0 C1350.9 954.9 1354.5 954.1 1360.8 953.9 C1367.1 953.6 1380.1 953.6 1384.0 953.5" fill="none" stroke="#4a78c0" stroke-width="3.4" stroke-linejoin="round" stroke-linecap="butt"/>
<line x1="812.20" y1="655.70" x2="1384.20" y2="655.70" stroke="#222" stroke-width="1.5"/>
<line x1="1384.20" y1="655.70" x2="1384.20" y2="1129.20" stroke="#222" stroke-width="1.5"/>
<line x1="812.20" y1="655.70" x2="812.20" y2="1115.70" stroke="#111" stroke-width="1.6"/>
<line x1="811.40" y1="1115.70" x2="1384.95" y2="1115.70" stroke="#333" stroke-width="1.6"/>
<line x1="875.80" y1="1115.70" x2="875.80" y2="1129.20" stroke="#333" stroke-width="1.5"/>
<text x="875.80" y="1162.10" font-size="24.20" text-anchor="middle" textLength="69.70" lengthAdjust="spacingAndGlyphs">11,200</text>
<line x1="1002.93" y1="1115.70" x2="1002.93" y2="1129.20" stroke="#333" stroke-width="1.5"/>
<text x="1002.93" y="1162.10" font-size="24.20" text-anchor="middle" textLength="69.70" lengthAdjust="spacingAndGlyphs">11,250</text>
<line x1="1130.06" y1="1115.70" x2="1130.06" y2="1129.20" stroke="#333" stroke-width="1.5"/>
<text x="1130.06" y="1162.10" font-size="24.20" text-anchor="middle" textLength="69.70" lengthAdjust="spacingAndGlyphs">11,300</text>
<line x1="1257.19" y1="1115.70" x2="1257.19" y2="1129.20" stroke="#333" stroke-width="1.5"/>
<text x="1257.19" y="1162.10" font-size="24.20" text-anchor="middle" textLength="69.70" lengthAdjust="spacingAndGlyphs">11,350</text>
<line x1="1384.32" y1="1115.70" x2="1384.32" y2="1129.20" stroke="#333" stroke-width="1.5"/>
<text x="1384.32" y="1162.10" font-size="24.20" text-anchor="middle" textLength="69.70" lengthAdjust="spacingAndGlyphs">11,400</text>
<text x="1098.50" y="1208.00" font-size="28.40" text-anchor="middle" textLength="145.50" lengthAdjust="spacingAndGlyphs">Energy (eV)</text>
<text x="792.10" y="885.50" font-size="28.40" text-anchor="middle" textLength="319.00" lengthAdjust="spacingAndGlyphs" transform="rotate(-90 792.10 885.50)">Nomalized intensity (a.u.)</text>
<text x="826.80" y="694.90" font-size="28.40" textLength="124.80" lengthAdjust="spacingAndGlyphs">Ir L<tspan font-size="20.45" dy="8.52">3</tspan><tspan dy="-8.52">-edge</tspan></text>
<line x1="1161.50" y1="1044.00" x2="1229.10" y2="1044.00" stroke="#d8302a" stroke-width="3.2"/>
<line x1="1161.50" y1="1087.60" x2="1229.10" y2="1087.60" stroke="#4a78c0" stroke-width="3.2"/>
<text x="1246.20" y="1054.00" font-size="28.40" textLength="130.80" lengthAdjust="spacingAndGlyphs">CeO<tspan font-size="20.45" dy="8.52">2</tspan><tspan dy="-8.52">–IrO</tspan><tspan font-size="20.45" dy="8.52">2</tspan></text>
<text x="1245.00" y="1097.70" font-size="28.40" textLength="47.60" lengthAdjust="spacingAndGlyphs">IrO<tspan font-size="20.45" dy="8.52">2</tspan></text>
<text x="1458.00" y="658.50" font-size="40.00" font-weight="bold" stroke="#000" stroke-width="1.2">f</text>
<clipPath id="cf1"><rect x="1578.1" y="659.8" width="573.2" height="230.5"/></clipPath>
<clipPath id="cf2"><rect x="1578.1" y="890.3" width="573.2" height="230.2"/></clipPath>
<g clip-path="url(#cf1)">
<path d="M1578.0 872.2 L1580.0 872.2 L1582.0 872.2 L1584.0 872.1 L1586.0 872.1 L1588.0 872.1 L1590.0 872.1 L1592.0 872.1 L1594.0 872.1 L1596.0 872.1 L1598.0 872.0 L1600.0 872.0 L1602.0 872.0 L1604.0 872.0 L1606.0 872.0 L1608.0 872.0 L1610.0 871.9 L1612.0 871.9 L1614.0 871.9 L1616.0 871.9 L1618.0 871.9 L1620.0 871.8 L1622.0 871.8 L1624.0 871.8 L1626.0 871.8 L1628.0 871.8 L1630.0 871.8 L1632.0 871.7 L1634.0 871.7 L1636.0 871.7 L1638.0 871.7 L1640.0 871.7 L1642.0 871.7 L1644.0 871.6 L1646.0 871.6 L1648.0 871.6 L1650.0 871.6 L1652.0 871.6 L1654.0 871.6 L1656.0 871.5 L1658.0 871.5 L1660.0 871.5 L1662.0 871.5 L1664.0 871.5 L1666.0 871.5 L1668.0 871.4 L1670.0 871.4 L1672.0 871.4 L1674.0 871.4 L1676.0 871.4 L1678.0 871.4 L1680.0 871.3 L1682.0 871.3 L1684.0 871.3 L1686.0 871.3 L1688.0 871.3 L1690.0 871.3 L1692.0 871.2 L1694.0 871.2 L1696.0 871.2 L1698.0 871.2 L1700.0 871.2 L1702.0 871.2 L1704.0 871.1 L1706.0 871.1 L1708.0 871.1 L1710.0 871.1 L1712.0 871.1 L1714.0 871.0 L1716.0 871.0 L1718.0 871.0 L1720.0 871.0 L1722.0 871.0 L1724.0 870.9 L1726.0 870.9 L1728.0 870.9 L1730.0 870.9 L1732.0 870.8 L1734.0 870.8 L1736.0 870.8 L1738.0 870.8 L1740.0 870.7 L1742.0 870.7 L1744.0 870.7 L1746.0 870.6 L1748.0 870.6 L1750.0 870.6 L1752.0 870.6 L1754.0 870.5 L1756.0 870.5 L1758.0 870.5 L1760.0 870.5 L1762.0 870.4 L1764.0 870.4 L1766.0 870.4 L1768.0 870.3 L1770.0 870.3 L1772.0 870.3 L1774.0 870.3 L1776.0 870.2 L1778.0 870.2 L1780.0 870.2 L1782.0 870.1 L1784.0 870.1 L1786.0 870.1 L1788.0 870.1 L1790.0 870.0 L1792.0 870.0 L1794.0 870.0 L1796.0 869.9 L1798.0 869.9 L1800.0 869.9 L1802.0 869.9 L1804.0 869.8 L1806.0 869.8 L1808.0 869.8 L1810.0 869.7 L1812.0 869.7 L1814.0 869.7 L1816.0 869.6 L1818.0 869.6 L1820.0 869.6 L1822.0 869.5 L1824.0 869.5 L1826.0 869.5 L1828.0 869.4 L1830.0 869.4 L1832.0 869.4 L1834.0 869.3 L1836.0 869.3 L1838.0 869.3 L1840.0 869.2 L1842.0 869.2 L1844.0 869.2 L1846.0 869.2 L1848.0 869.1 L1850.0 869.1 L1852.0 869.1 L1854.0 869.0 L1856.0 869.0 L1858.0 869.0 L1860.0 868.9 L1862.0 868.9 L1864.0 868.9 L1866.0 868.8 L1868.0 868.8 L1870.0 868.8 L1872.0 868.7 L1874.0 868.7 L1876.0 868.6 L1878.0 868.6 L1880.0 868.6 L1882.0 868.5 L1884.0 868.5 L1886.0 868.4 L1888.0 868.4 L1890.0 868.3 L1892.0 868.3 L1894.0 868.2 L1896.0 868.2 L1898.0 868.1 L1900.0 868.1 L1902.0 868.0 L1904.0 868.0 L1906.0 867.9 L1908.0 867.9 L1910.0 867.8 L1912.0 867.8 L1914.0 867.7 L1916.0 867.7 L1918.0 867.6 L1920.0 867.5 L1922.0 867.5 L1924.0 867.4 L1926.0 867.4 L1928.0 867.3 L1930.0 867.3 L1932.0 867.2 L1934.0 867.2 L1936.0 867.1 L1938.0 867.1 L1940.0 867.0 L1942.0 867.0 L1944.0 866.9 L1946.0 866.9 L1948.0 866.8 L1950.0 866.7 L1952.0 866.7 L1954.0 866.6 L1956.0 866.5 L1958.0 866.4 L1960.0 866.4 L1962.0 866.3 L1964.0 866.2 L1966.0 866.1 L1968.0 866.0 L1970.0 865.9 L1972.0 865.7 L1974.0 865.6 L1976.0 865.5 L1978.0 865.4 L1980.0 865.3 L1982.0 865.1 L1984.0 865.0 L1986.0 864.9 L1988.0 864.8 L1990.0 864.6 L1992.0 864.5 L1994.0 864.3 L1996.0 864.1 L1998.0 864.0 L2000.0 863.8 L2002.0 863.6 L2004.0 863.4 L2006.0 863.1 L2008.0 862.9 L2010.0 862.6 L2012.0 862.4 L2014.0 862.1 L2016.0 861.8 L2018.0 861.5 L2020.0 861.2 L2022.0 860.9 L2024.0 860.6 L2026.0 860.3 L2028.0 860.0 L2030.0 859.6 L2032.0 859.3 L2034.0 858.9 L2036.0 858.5 L2038.0 858.1 L2040.0 857.7 L2042.0 857.3 L2044.0 856.9 L2046.0 856.4 L2048.0 856.0 L2050.0 855.5 L2052.0 855.0 L2054.0 854.4 L2056.0 853.9 L2058.0 853.3 L2060.0 852.7 L2062.0 852.1 L2064.0 851.5 L2066.0 850.8 L2068.0 850.1 L2070.0 849.4 L2072.0 848.7 L2074.0 847.9 L2076.0 847.2 L2078.0 846.3 L2080.0 845.5 L2082.0 844.6 L2084.0 843.7 L2086.0 842.7 L2088.0 841.8 L2090.0 840.8 L2092.0 839.7 L2094.0 838.7 L2096.0 837.6 L2098.0 836.5 L2100.0 835.4 L2102.0 834.3 L2104.0 833.2 L2106.0 832.0 L2108.0 830.9 L2110.0 829.7 L2112.0 828.5 L2114.0 827.2 L2116.0 826.0 L2118.0 824.7 L2120.0 823.5 L2122.0 822.2 L2124.0 820.9 L2126.0 819.5 L2128.0 818.1 L2130.0 816.8 L2132.0 815.4 L2134.0 813.9 L2136.0 812.5 L2138.0 811.0 L2140.0 809.5 L2142.0 808.1 L2144.0 806.6 L2146.0 805.0 L2148.0 803.5 L2150.0 802.0 L2152.0 800.5" fill="none" stroke="#4a78c0" stroke-width="3.6" stroke-linejoin="round" stroke-linecap="butt"/>
<path d="M1578.0 869.6 L1580.0 869.7 L1582.0 869.7 L1584.0 869.8 L1586.0 869.8 L1588.0 869.9 L1590.0 869.9 L1592.0 870.0 L1594.0 870.1 L1596.0 870.1 L1598.0 870.2 L1600.0 870.2 L1602.0 870.3 L1604.0 870.3 L1606.0 870.4 L1608.0 870.5 L1610.0 870.5 L1612.0 870.6 L1614.0 870.6 L1616.0 870.7 L1618.0 870.7 L1620.0 870.8 L1622.0 870.8 L1624.0 870.9 L1626.0 870.9 L1628.0 871.0 L1630.0 871.0 L1632.0 871.0 L1634.0 871.1 L1636.0 871.1 L1638.0 871.2 L1640.0 871.2 L1642.0 871.2 L1644.0 871.3 L1646.0 871.3 L1648.0 871.4 L1650.0 871.4 L1652.0 871.4 L1654.0 871.5 L1656.0 871.5 L1658.0 871.6 L1660.0 871.6 L1662.0 871.6 L1664.0 871.7 L1666.0 871.7 L1668.0 871.8 L1670.0 871.8 L1672.0 871.8 L1674.0 871.9 L1676.0 871.9 L1678.0 871.9 L1680.0 872.0 L1682.0 872.0 L1684.0 872.0 L1686.0 872.0 L1688.0 872.0 L1690.0 872.0 L1692.0 872.1 L1694.0 872.1 L1696.0 872.1 L1698.0 872.1 L1700.0 872.1 L1702.0 872.1 L1704.0 872.1 L1706.0 872.1 L1708.0 872.1 L1710.0 872.1 L1712.0 872.2 L1714.0 872.2 L1716.0 872.2 L1718.0 872.2 L1720.0 872.2 L1722.0 872.2 L1724.0 872.1 L1726.0 872.1 L1728.0 872.1 L1730.0 872.1 L1732.0 872.1 L1734.0 872.0 L1736.0 872.0 L1738.0 872.0 L1740.0 872.0 L1742.0 871.9 L1744.0 871.9 L1746.0 871.9 L1748.0 871.9 L1750.0 871.8 L1752.0 871.8 L1754.0 871.8 L1756.0 871.8 L1758.0 871.8 L1760.0 871.7 L1762.0 871.7 L1764.0 871.7 L1766.0 871.7 L1768.0 871.6 L1770.0 871.6 L1772.0 871.6 L1774.0 871.6 L1776.0 871.5 L1778.0 871.5 L1780.0 871.5 L1782.0 871.4 L1784.0 871.4 L1786.0 871.3 L1788.0 871.3 L1790.0 871.2 L1792.0 871.2 L1794.0 871.1 L1796.0 871.1 L1798.0 871.1 L1800.0 871.0 L1802.0 871.0 L1804.0 870.9 L1806.0 870.9 L1808.0 870.8 L1810.0 870.8 L1812.0 870.7 L1814.0 870.7 L1816.0 870.6 L1818.0 870.5 L1820.0 870.5 L1822.0 870.5 L1824.0 870.4 L1826.0 870.4 L1828.0 870.3 L1830.0 870.3 L1832.0 870.2 L1834.0 870.2 L1836.0 870.1 L1838.0 870.1 L1840.0 870.0 L1842.0 870.0 L1844.0 870.0 L1846.0 869.9 L1848.0 869.9 L1850.0 869.9 L1852.0 869.8 L1854.0 869.8 L1856.0 869.8 L1858.0 869.8 L1860.0 869.7 L1862.0 869.7 L1864.0 869.7 L1866.0 869.7 L1868.0 869.6 L1870.0 869.6 L1872.0 869.6 L1874.0 869.5 L1876.0 869.5 L1878.0 869.5 L1880.0 869.5 L1882.0 869.4 L1884.0 869.4 L1886.0 869.4 L1888.0 869.4 L1890.0 869.3 L1892.0 869.3 L1894.0 869.3 L1896.0 869.3 L1898.0 869.2 L1900.0 869.2 L1902.0 869.2 L1904.0 869.2 L1906.0 869.1 L1908.0 869.1 L1910.0 869.1 L1912.0 869.1 L1914.0 869.0 L1916.0 869.0 L1918.0 869.0 L1920.0 869.0 L1922.0 868.9 L1924.0 868.9 L1926.0 868.9 L1928.0 868.9 L1930.0 868.9 L1932.0 868.8 L1934.0 868.8 L1936.0 868.8 L1938.0 868.8 L1940.0 868.7 L1942.0 868.7 L1944.0 868.7 L1946.0 868.7 L1948.0 868.6 L1950.0 868.6 L1952.0 868.6 L1954.0 868.6 L1956.0 868.5 L1958.0 868.5 L1960.0 868.4 L1962.0 868.3 L1964.0 868.2 L1966.0 868.1 L1968.0 868.0 L1970.0 867.9 L1972.0 867.7 L1974.0 867.6 L1976.0 867.5 L1978.0 867.3 L1980.0 867.2 L1982.0 867.0 L1984.0 866.8 L1986.0 866.6 L1988.0 866.4 L1990.0 866.2 L1992.0 866.0 L1994.0 865.7 L1996.0 865.4 L1998.0 865.1 L2000.0 864.7 L2002.0 864.4 L2004.0 863.9 L2006.0 863.4 L2008.0 862.9 L2010.0 862.2 L2012.0 861.6 L2014.0 860.8 L2016.0 859.9 L2018.0 858.9 L2020.0 857.8 L2022.0 856.7 L2024.0 855.4 L2026.0 853.9 L2028.0 852.4 L2030.0 850.8 L2032.0 849.1 L2034.0 847.3 L2036.0 845.4 L2038.0 843.4 L2040.0 841.4 L2042.0 839.3 L2044.0 837.1 L2046.0 834.8 L2048.0 832.4 L2050.0 829.9 L2052.0 827.4 L2054.0 824.9 L2056.0 822.2 L2058.0 819.6 L2060.0 816.9 L2062.0 814.2 L2064.0 811.5 L2066.0 808.7 L2068.0 805.9 L2070.0 803.1 L2072.0 800.3 L2074.0 797.5 L2076.0 794.7 L2078.0 791.9 L2080.0 789.1 L2082.0 786.2 L2084.0 783.4 L2086.0 780.6 L2088.0 777.8 L2090.0 774.9 L2092.0 772.1 L2094.0 769.2 L2096.0 766.4 L2098.0 763.5 L2100.0 760.7 L2102.0 757.8 L2104.0 754.9 L2106.0 752.1 L2108.0 749.2 L2110.0 746.3 L2112.0 743.4 L2114.0 740.5 L2116.0 737.6 L2118.0 734.7 L2120.0 731.8 L2122.0 728.8 L2124.0 725.9 L2126.0 722.9 L2128.0 719.9 L2130.0 716.9 L2132.0 713.9 L2134.0 710.9 L2136.0 707.9 L2138.0 704.8 L2140.0 701.8 L2142.0 698.7 L2144.0 695.5 L2146.0 692.4 L2148.0 689.3 L2150.0 686.1 L2152.0 683.0" fill="none" stroke="#d8302a" stroke-width="3.6" stroke-linejoin="round" stroke-linecap="butt"/>
</g>
<g clip-path="url(#cf2)">
<path d="M1578.1 949.5 L1596.0 948.6 L1613.9 946.5 L1631.8 948.6 L1649.7 950.4 L1667.6 952.5 L1685.6 954.3 L1703.5 956.2 L1721.4 957.8 L1739.3 959.5 L1757.2 960.9 L1775.1 962.4 L1793.0 963.8 L1810.9 965.0 L1828.8 966.3 L1846.8 967.5 L1864.7 969.2 L1882.6 970.2 L1900.5 971.2 L1918.4 972.0 L1936.3 973.0 L1954.2 974.0 L1972.1 975.0 L1990.0 976.0 L2007.9 977.0 L2025.8 977.6 L2043.8 978.5 L2061.7 979.2 L2079.6 980.0 L2097.5 980.6 L2115.4 981.5 L2133.3 982.2 L2151.2 983.0" fill="none" stroke="#cc0a0a" stroke-width="2.6" stroke-linejoin="round" stroke-linecap="butt"/>
<g fill="#fff" stroke="#cc0a0a" stroke-width="2.2"><circle cx="1596.0" cy="948.6" r="5.4"/><circle cx="1613.9" cy="946.5" r="5.4"/><circle cx="1631.8" cy="948.6" r="5.4"/><circle cx="1649.7" cy="950.4" r="5.4"/><circle cx="1667.6" cy="952.5" r="5.4"/><circle cx="1685.6" cy="954.3" r="5.4"/><circle cx="1703.5" cy="956.2" r="5.4"/><circle cx="1721.4" cy="957.8" r="5.4"/><circle cx="1739.3" cy="959.5" r="5.4"/><circle cx="1757.2" cy="960.9" r="5.4"/><circle cx="1775.1" cy="962.4" r="5.4"/><circle cx="1793.0" cy="963.8" r="5.4"/><circle cx="1810.9" cy="965.0" r="5.4"/><circle cx="1828.8" cy="966.3" r="5.4"/><circle cx="1846.8" cy="967.5" r="5.4"/><circle cx="1864.7" cy="969.2" r="5.4"/><circle cx="1882.6" cy="970.2" r="5.4"/><circle cx="1900.5" cy="971.2" r="5.4"/><circle cx="1918.4" cy="972.0" r="5.4"/><circle cx="1936.3" cy="973.0" r="5.4"/><circle cx="1954.2" cy="974.0" r="5.4"/><circle cx="1972.1" cy="975.0" r="5.4"/><circle cx="1990.0" cy="976.0" r="5.4"/><circle cx="2007.9" cy="977.0" r="5.4"/><circle cx="2025.8" cy="977.6" r="5.4"/><circle cx="2043.8" cy="978.5" r="5.4"/><circle cx="2061.7" cy="979.2" r="5.4"/><circle cx="2079.6" cy="980.0" r="5.4"/><circle cx="2097.5" cy="980.6" r="5.4"/><circle cx="2115.4" cy="981.5" r="5.4"/><circle cx="2133.3" cy="982.2" r="5.4"/><circle cx="2151.2" cy="983.0" r="5.4"/></g>
<path d="M1578.1 953.1 L1596.0 975.8 L1613.9 987.1 L1631.8 996.4 L1649.7 1004.2 L1667.6 1012.4 L1685.6 1019.6 L1703.5 1027.2 L1721.4 1034.4 L1739.3 1042.1 L1757.2 1049.5 L1775.1 1056.3 L1793.0 1063.9 L1810.9 1070.9 L1828.8 1078.7 L1846.8 1085.3 L1864.7 1092.1 L1882.6 1101.0 L1900.5 1112.7 L1918.4 1124.0 L1936.3 1135.0" fill="none" stroke="#4a78c0" stroke-width="2.6" stroke-linejoin="round" stroke-linecap="butt"/>
<g fill="#fff" stroke="#4a78c0" stroke-width="2.2"><circle cx="1578.1" cy="953.1" r="5.4"/><circle cx="1596.0" cy="975.8" r="5.4"/><circle cx="1613.9" cy="987.1" r="5.4"/><circle cx="1631.8" cy="996.4" r="5.4"/><circle cx="1649.7" cy="1004.2" r="5.4"/><circle cx="1667.6" cy="1012.4" r="5.4"/><circle cx="1685.6" cy="1019.6" r="5.4"/><circle cx="1703.5" cy="1027.2" r="5.4"/><circle cx="1721.4" cy="1034.4" r="5.4"/><circle cx="1739.3" cy="1042.1" r="5.4"/><circle cx="1757.2" cy="1049.5" r="5.4"/><circle cx="1775.1" cy="1056.3" r="5.4"/><circle cx="1793.0" cy="1063.9" r="5.4"/><circle cx="1810.9" cy="1070.9" r="5.4"/><circle cx="1828.8" cy="1078.7" r="5.4"/><circle cx="1846.8" cy="1085.3" r="5.4"/><circle cx="1864.7" cy="1092.1" r="5.4"/><circle cx="1882.6" cy="1101.0" r="5.4"/><circle cx="1900.5" cy="1112.7" r="5.4"/><circle cx="1918.4" cy="1124.0" r="5.4"/><circle cx="1936.3" cy="1135.0" r="5.4"/></g>
</g>
<line x1="1578.10" y1="659.80" x2="2151.30" y2="659.80" stroke="#222" stroke-width="1.5"/>
<line x1="2151.30" y1="659.80" x2="2151.30" y2="1120.50" stroke="#222" stroke-width="1.5"/>
<line x1="1578.10" y1="659.80" x2="1578.10" y2="1130.50" stroke="#222" stroke-width="1.5"/>
<line x1="1578.10" y1="890.30" x2="2151.30" y2="890.30" stroke="#111" stroke-width="1.6"/>
<line x1="1577.35" y1="1120.50" x2="2152.05" y2="1120.50" stroke="#222" stroke-width="1.6"/>
<line x1="1569.10" y1="872.00" x2="1578.10" y2="872.00" stroke="#222" stroke-width="1.5"/>
<text x="1558.20" y="879.40" font-size="24.20" text-anchor="end" textLength="14.50" lengthAdjust="spacingAndGlyphs">0</text>
<line x1="1569.10" y1="800.98" x2="1578.10" y2="800.98" stroke="#222" stroke-width="1.5"/>
<text x="1558.20" y="808.38" font-size="24.20" text-anchor="end" textLength="49.70" lengthAdjust="spacingAndGlyphs">0.04</text>
<line x1="1569.10" y1="729.96" x2="1578.10" y2="729.96" stroke="#222" stroke-width="1.5"/>
<text x="1558.20" y="737.36" font-size="24.20" text-anchor="end" textLength="49.70" lengthAdjust="spacingAndGlyphs">0.08</text>
<line x1="1569.10" y1="658.94" x2="1578.10" y2="658.94" stroke="#222" stroke-width="1.5"/>
<text x="1558.20" y="666.34" font-size="24.20" text-anchor="end" textLength="45.20" lengthAdjust="spacingAndGlyphs">0.12</text>
<line x1="1569.10" y1="1092.46" x2="1578.10" y2="1092.46" stroke="#222" stroke-width="1.5"/>
<text x="1558.20" y="1099.86" font-size="24.20" text-anchor="end" textLength="14.50" lengthAdjust="spacingAndGlyphs">2</text>
<line x1="1569.10" y1="1034.72" x2="1578.10" y2="1034.72" stroke="#222" stroke-width="1.5"/>
<text x="1558.20" y="1042.12" font-size="24.20" text-anchor="end" textLength="14.50" lengthAdjust="spacingAndGlyphs">4</text>
<line x1="1569.10" y1="976.98" x2="1578.10" y2="976.98" stroke="#222" stroke-width="1.5"/>
<text x="1558.20" y="984.38" font-size="24.20" text-anchor="end" textLength="14.50" lengthAdjust="spacingAndGlyphs">6</text>
<line x1="1569.10" y1="919.24" x2="1578.10" y2="919.24" stroke="#222" stroke-width="1.5"/>
<text x="1558.20" y="926.64" font-size="24.20" text-anchor="end" textLength="14.50" lengthAdjust="spacingAndGlyphs">8</text>
<line x1="1578.10" y1="1120.50" x2="1578.10" y2="1130.50" stroke="#222" stroke-width="1.5"/>
<text x="1578.10" y="1159.90" font-size="24.20" text-anchor="middle" textLength="35.20" lengthAdjust="spacingAndGlyphs">0.8</text>
<line x1="1721.40" y1="1120.50" x2="1721.40" y2="1130.50" stroke="#222" stroke-width="1.5"/>
<text x="1721.40" y="1159.90" font-size="24.20" text-anchor="middle" textLength="30.70" lengthAdjust="spacingAndGlyphs">1.0</text>
<line x1="1864.70" y1="1120.50" x2="1864.70" y2="1130.50" stroke="#222" stroke-width="1.5"/>
<text x="1864.70" y="1159.90" font-size="24.20" text-anchor="middle" textLength="30.70" lengthAdjust="spacingAndGlyphs">1.2</text>
<line x1="2008.00" y1="1120.50" x2="2008.00" y2="1130.50" stroke="#222" stroke-width="1.5"/>
<text x="2008.00" y="1159.90" font-size="24.20" text-anchor="middle" textLength="30.70" lengthAdjust="spacingAndGlyphs">1.4</text>
<line x1="2151.30" y1="1120.50" x2="2151.30" y2="1130.50" stroke="#222" stroke-width="1.5"/>
<text x="2151.30" y="1159.90" font-size="24.20" text-anchor="middle" textLength="30.70" lengthAdjust="spacingAndGlyphs">1.6</text>
<text x="1864.90" y="1205.20" font-size="28.40" text-anchor="middle" textLength="204.00" lengthAdjust="spacingAndGlyphs"><tspan font-style="italic">E</tspan> (V versus RHE)</text>
<text x="1481.00" y="779.50" font-size="28.40" text-anchor="middle" textLength="122.00" lengthAdjust="spacingAndGlyphs" transform="rotate(-90 1481.00 779.50)"><tspan font-style="italic">J</tspan> (A cm<tspan font-size="20.45" dy="-13.06">−2</tspan><tspan dy="13.06">)</tspan></text>
<text x="1520.80" y="1005.50" font-size="28.40" text-anchor="middle" transform="rotate(-90 1520.80 1005.50)">pH</text>
<line x1="1589.00" y1="685.50" x2="1635.00" y2="685.50" stroke="#d8302a" stroke-width="3.4"/>
<line x1="1589.00" y1="729.50" x2="1635.00" y2="729.50" stroke="#4a78c0" stroke-width="3.4"/>
<text x="1651.00" y="695.30" font-size="28.40" textLength="130.60" lengthAdjust="spacingAndGlyphs">CeO<tspan font-size="20.45" dy="8.52">2</tspan><tspan dy="-8.52">–IrO</tspan><tspan font-size="20.45" dy="8.52">2</tspan></text>
<text x="1650.00" y="739.50" font-size="28.40" textLength="47.50" lengthAdjust="spacingAndGlyphs">IrO<tspan font-size="20.45" dy="8.52">2</tspan></text>
</svg>
</body></html>
